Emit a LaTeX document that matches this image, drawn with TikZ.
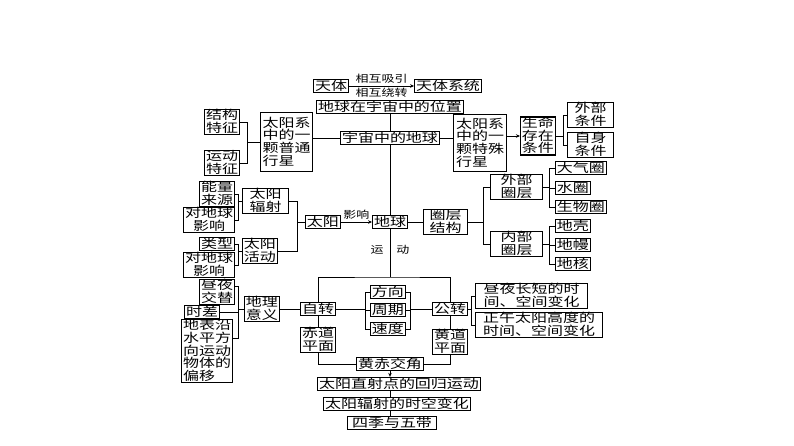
\documentclass[tikz,border=0pt]{standalone}
\usepackage{fontspec}
\newfontfamily\cjk[FakeStretch=1.3]{Noto Sans CJK SC}
\usetikzlibrary{arrows.meta}

\begin{document}
\begin{tikzpicture}[x=1pt, y=-1pt,
  every node/.style={font=\cjk\fontsize{12.3}{12.6}\selectfont},
  box/.style={draw, line width=1.3pt, fill=white, inner xsep=1.3pt, inner ysep=0.2pt, align=left,
    execute at begin node={\rule[-2pt]{0pt}{12.6pt}},
    execute at end node={\rule[-2pt]{0pt}{2pt}}},
  lbl/.style={font=\cjk\fontsize{10}{11}\selectfont, inner sep=0.5pt,
    execute at begin node={\rule[-1.8pt]{0pt}{10.5pt}}},
  conn/.style={line width=0.8pt},
  arr/.style={conn, -{Stealth[length=4pt,width=3.5pt]}}]
  \useasboundingbox (0,0) rectangle (794,446);

  % Top: position in the universe
  \node[box] (tianti) at (331,86) {天体};
  \node[box] (txitong) at (448,86) {天体系统};
  \node[box] (weizhi) at (390,107) {地球在宇宙中的位置};
  \node[box] (yuzhou) at (390,138) {宇宙中的地球};
  \node[box, anchor=west, minimum width=52, minimum height=59] (putong) at (260,142) {太阳系\\中的一\\颗普通\\行星};
  \node[box, anchor=west, minimum width=53, minimum height=57] (teshu) at (453,143) {太阳系\\中的一\\颗特殊\\行星};
  \node[box, anchor=east] (jiegou) at (240,122) {结构\\特征};
  \node[box, anchor=east] (yundong) at (240,163) {运动\\特征};
  \node[box, anchor=west] (shengming) at (520,136) {生命\\存在\\条件};
  \node[box, anchor=west, minimum width=46] (waibu) at (567,115) {外部\\条件};
  \node[box, anchor=west, minimum width=46] (zishen) at (567,145) {自身\\条件};

  % Sun and earth
  \node[box, anchor=east] (nengliang) at (235,194) {能量\\来源};
  \node[box, anchor=east, align=center] (fsyx) at (235,220) {对地球\\影响};
  \node[box, anchor=west, minimum width=46] (fushe) at (242,201) {太阳\\辐射};
  \node[box, anchor=east] (leixing) at (235,244) {类型};
  \node[box, anchor=east, align=center] (hdyx) at (235,265) {对地球\\影响};
  \node[box, anchor=west] (huodong) at (242,251) {太阳\\活动};
  \node[box, anchor=west] (taiyang) at (305,222) {太阳};
  \node[box] (diqiu) at (390,222) {地球};
  \node[lbl] (yundonglbl) at (390,250) {运\hspace{1.3em}动};

  % Layers
  \node[box, anchor=west, minimum width=44] (quanceng) at (423,222) {圈层\\结构};
  \node[box, anchor=west, minimum width=52] (waiquan) at (490,187) {外部\\圈层};
  \node[box, anchor=west, minimum width=52] (neiquan) at (490,244) {内部\\圈层};
  \node[box, anchor=west] (daqi) at (555,168) {大气圈};
  \node[box, anchor=west] (shuiquan) at (555,188) {水圈};
  \node[box, anchor=west] (shengwu) at (555,207) {生物圈};
  \node[box, anchor=west] (diqiao) at (555,226) {地壳};
  \node[box, anchor=west] (diman) at (555,245) {地幔};
  \node[box, anchor=west] (dihe) at (555,264) {地核};

  % Motion
  \node[box, anchor=east] (zhouye) at (235,292) {昼夜\\交替};
  \node[box, anchor=east] (shicha) at (220,312) {时差};
  \node[box, anchor=east] (pianyi) at (233,351) {地表沿\\水平方\\向运动\\物体的\\偏移};
  \node[box, anchor=west] (yiyi) at (244,309) {地理\\意义};
  \node[box] (zizhuan) at (318,309) {自转};
  \node[box, anchor=west] (fangxiang) at (370,292) {方向};
  \node[box, anchor=west] (zhouqi) at (370,310) {周期};
  \node[box, anchor=west] (sudu) at (370,329) {速度};
  \node[box] (gongzhuan) at (450,309) {公转};
  \node[box, anchor=west, minimum width=112] (zhouchang) at (475,296) {昼夜长短的时\\间、空间变化};
  \node[box, anchor=west, minimum width=127] (zhengwu) at (475,325) {正午太阳高度的\\时间、空间变化};
  \node[box] (chidao) at (318,340) {赤道\\平面};
  \node[box] (huangdao) at (450,342) {黄道\\平面};
  \node[box] (huangchi) at (390,364) {黄赤交角};
  \node[box] (zhishe) at (399,384) {太阳直射点的回归运动};
  \node[box] (shikong) at (397,404) {太阳辐射的时空变化};
  \node[box, minimum width=89] (siji) at (392,423) {四季与五带};

  % bracket points
  \coordinate (bputong) at (247,142);
  \coordinate (bsheng) at (563,136);
  \coordinate (bfushe) at (238,201);
  \coordinate (bhuodong) at (238,251);
  \coordinate (btaiyang) at (297,222);
  \coordinate (bquan) at (483,222);
  \coordinate (bwai) at (549,187);
  \coordinate (bnei) at (549,244);
  \coordinate (byiyi) at (238,309);
  \coordinate (bzi) at (365,309);
  \coordinate (bgong) at (410,309);
  \coordinate (bgong2) at (471,309);
  \coordinate (yd) at (390,277);

  % connectors
  \draw[arr] (tianti) -- node[lbl, above=0.5pt] {相互吸引} node[lbl, below=0.5pt] {相互绕转} (txitong);
  \draw[conn] (weizhi) -- (yuzhou);
  \draw[conn] (putong.east |- yuzhou) -- (yuzhou);
  \draw[conn] (yuzhou) -- (teshu.west |- yuzhou);
  \draw[conn] (putong) -- (bputong);
  \draw[conn] (jiegou.east) -| (bputong);
  \draw[conn] (yundong.east) -| (bputong);
  \draw[arr] (teshu.east |- shengming) -- (shengming);
  \draw[conn] (shengming) -- (bsheng);
  \draw[conn] (waibu.west) -| (bsheng);
  \draw[conn] (zishen.west) -| (bsheng);

  \draw[conn] (yuzhou) -- (diqiu);
  \draw[conn] (fushe) -- (bfushe);
  \draw[conn] (nengliang.east) -| (bfushe);
  \draw[conn] (fsyx.east) -| (bfushe);
  \draw[conn] (huodong) -- (bhuodong);
  \draw[conn] (leixing.east) -| (bhuodong);
  \draw[conn] (hdyx.east) -| (bhuodong);
  \draw[conn] (taiyang) -- (btaiyang);
  \draw[conn] (fushe.east) -| (btaiyang);
  \draw[conn] (huodong.east) -| (btaiyang);
  \draw[arr] (taiyang) -- node[lbl, above=0.5pt] {影响} (diqiu);

  \draw[conn] (diqiu) -- (quanceng);
  \draw[conn] (quanceng) -- (bquan);
  \draw[conn] (waiquan.west) -| (bquan);
  \draw[conn] (neiquan.west) -| (bquan);
  \draw[conn] (waiquan) -- (bwai);
  \draw[conn] (daqi.west) -| (bwai);
  \draw[conn] (shuiquan.west) -| (bwai);
  \draw[conn] (shengwu.west) -| (bwai);
  \draw[conn] (neiquan) -- (bnei);
  \draw[conn] (diqiao.west) -| (bnei);
  \draw[conn] (diman.west) -| (bnei);
  \draw[conn] (dihe.west) -| (bnei);

  \draw[conn] (diqiu) -- (yd);
  \draw[conn] (zizhuan) |- (yd) -| (gongzhuan);
  \draw[conn] (yiyi) -- (byiyi);
  \draw[conn] ([yshift=6pt]zhouye.east) -| (byiyi);
  \draw[conn] (shicha.east) -| (byiyi);
  \draw[conn] ([yshift=13pt]pianyi.east) -| (byiyi);
  \draw[conn] (yiyi) -- (zizhuan);
  \draw[conn] (zizhuan) -- (bzi);
  \draw[conn] (fangxiang.west) -| (bzi);
  \draw[conn] (zhouqi.west) -| (bzi);
  \draw[conn] (sudu.west) -| (bzi);
  \draw[conn] (gongzhuan) -- (bgong);
  \draw[conn] (fangxiang.east) -| (bgong);
  \draw[conn] (zhouqi.east) -| (bgong);
  \draw[conn] (sudu.east) -| (bgong);
  \draw[conn] (gongzhuan) -- (bgong2);
  \draw[conn] (zhouchang.west) -| (bgong2);
  \draw[conn] (zhengwu.west) -| (bgong2);

  \draw[conn] (zizhuan) -- (chidao);
  \draw[conn] (chidao) |- (huangchi);
  \draw[conn] (gongzhuan) -- (huangdao);
  \draw[conn] (huangdao) |- (huangchi);
  \draw[arr] (huangchi) -- (huangchi |- zhishe.north);
  \draw[conn] (zhishe.south -| huangchi) -- (shikong.north -| huangchi);
  \draw[conn] (shikong.south -| huangchi) -- (siji.north -| huangchi);
\end{tikzpicture}
\end{document}
